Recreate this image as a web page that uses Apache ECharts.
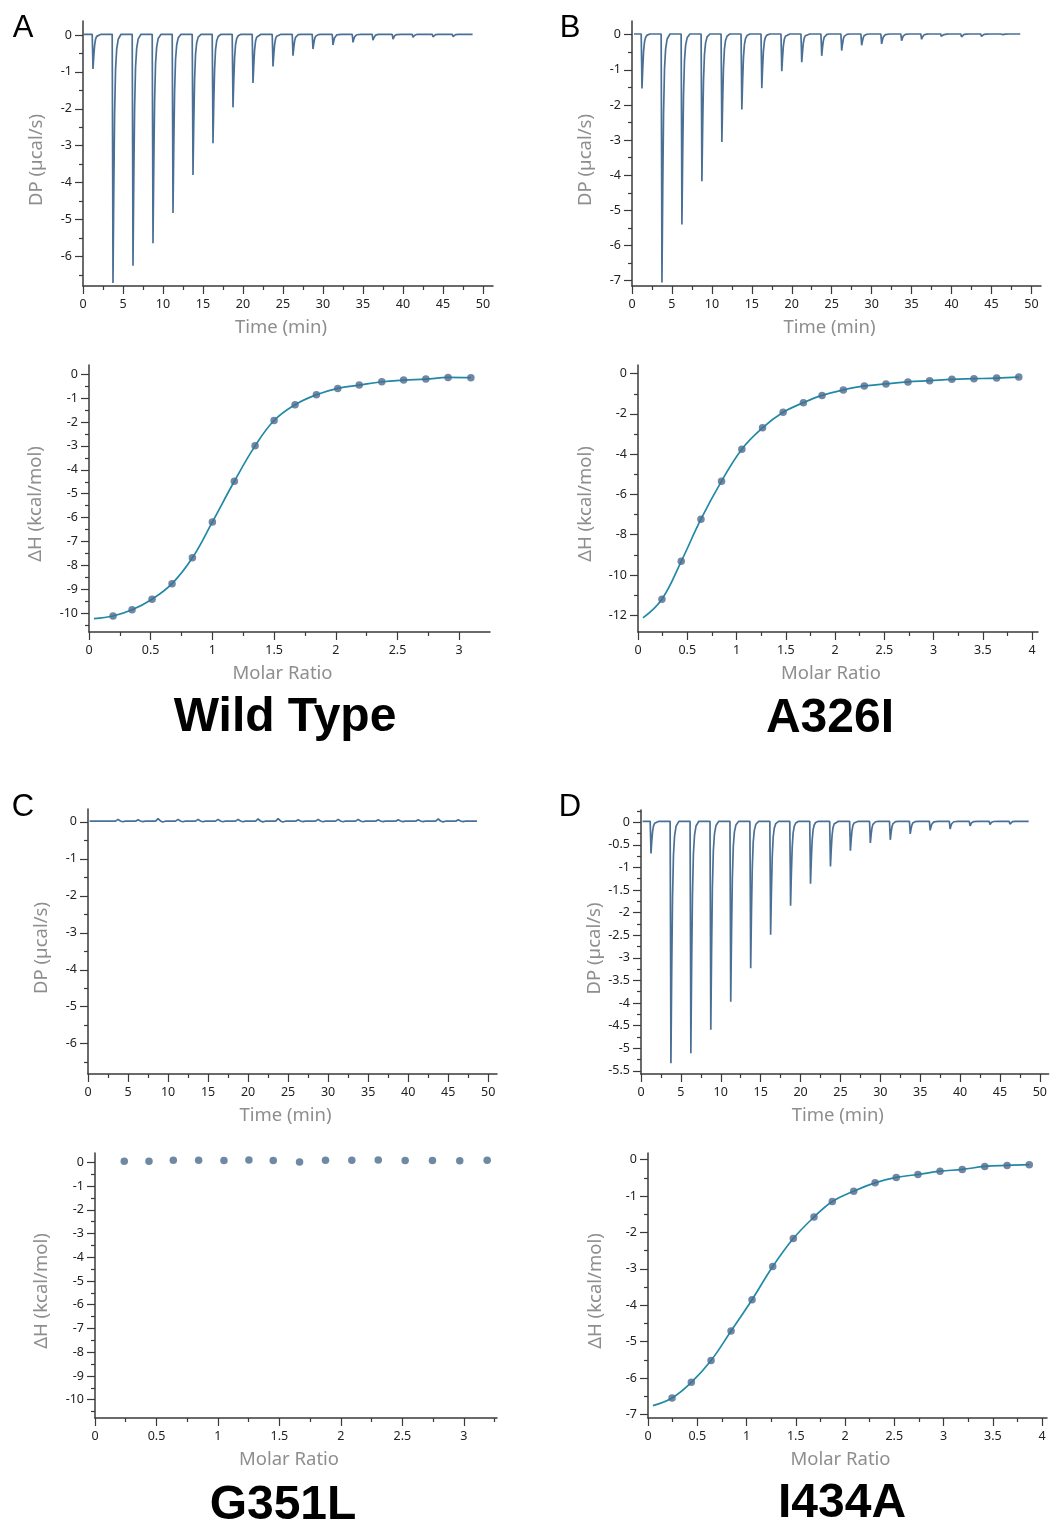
<!DOCTYPE html>
<html>
<head>
<meta charset="utf-8">
<title>ITC</title>
<style>
  html, body { margin: 0; padding: 0; background: #fff; }
  #main { width: 1050px; height: 1523px; }
</style>
</head>
<body>
<div id="main"></div>
<script src="https://cdn.jsdelivr.net/npm/echarts@6/dist/echarts.min.js"></script>
<script>
// injection peaks (min) and peak heights (ucal/s)
var injTimes = [1.25, 3.75, 6.25, 8.75, 11.25, 13.75, 16.25, 18.75, 21.25, 23.75, 26.25, 28.75, 31.25, 33.75, 36.25, 38.75, 41.25, 43.75, 46.25];
var peaksA = [-0.92, -6.72, -6.25, -5.64, -4.82, -3.79, -2.93, -1.96, -1.3, -0.85, -0.56, -0.38, -0.27, -0.2, -0.14, -0.11, -0.06, -0.05, -0.04];
var peaksB = [-1.53, -7.05, -5.4, -4.17, -3.05, -2.13, -1.52, -1.04, -0.78, -0.6, -0.45, -0.3, -0.26, -0.17, -0.13, -0.1, -0.06, -0.05, -0.03];
var peaksC = [0.02, 0.07, 0.06, 0.09, 0.07, 0.07, 0.07, 0.07, 0.08, 0.09, 0.06, 0.07, 0.07, 0.07, 0.06, 0.06, 0.06, 0.08, 0.06];
var peaksD = [-0.69, -5.33, -5.11, -4.59, -3.97, -3.23, -2.49, -1.85, -1.36, -0.98, -0.63, -0.46, -0.39, -0.26, -0.18, -0.15, -0.08, -0.05, -0.04];
var baseline = 0.02;
// shape of one injection peak: [time from peak, fraction of peak height]
var spikeShape = [[-0.1, 0], [-0.04, 0.55], [0, 1], [0.1, 0.62], [0.2, 0.32], [0.32, 0.14], [0.46, 0.06], [0.65, 0.02], [1.0, 0]];
// the small blips of the G351L run
var bumpShape = [[-0.3, 0], [0, 1], [0.3, 0.1], [0.6, -0.3], [0.9, 0]];

// integrated heats
var ratioA = [0.195, 0.349, 0.511, 0.673, 0.838, 1.0, 1.178, 1.346, 1.5, 1.67, 1.843, 2.016, 2.19, 2.373, 2.55, 2.73, 2.91, 3.095];
var dhA = [-10.11, -9.85, -9.41, -8.76, -7.68, -6.18, -4.48, -3.0, -1.94, -1.28, -0.865, -0.6, -0.46, -0.32, -0.25, -0.21, -0.14, -0.15];
var fitStartA = [0.04, -10.22];
var ratioB = [0.243, 0.439, 0.639, 0.848, 1.054, 1.264, 1.473, 1.679, 1.868, 2.084, 2.297, 2.517, 2.74, 2.96, 3.186, 3.41, 3.64, 3.865];
var dhB = [-11.2, -9.32, -7.23, -5.34, -3.75, -2.69, -1.92, -1.44, -1.08, -0.81, -0.61, -0.51, -0.41, -0.35, -0.28, -0.25, -0.22, -0.17];
var fitStartB = [0.05, -12.13];
var ratioC = [0.238, 0.439, 0.637, 0.843, 1.049, 1.252, 1.45, 1.664, 1.875, 2.089, 2.304, 2.523, 2.745, 2.967, 3.19];
var dhC = [0.04, 0.04, 0.08, 0.08, 0.07, 0.1, 0.07, 0.01, 0.08, 0.08, 0.1, 0.07, 0.07, 0.06, 0.08];
var ratioD = [0.244, 0.44, 0.64, 0.843, 1.056, 1.266, 1.475, 1.685, 1.871, 2.088, 2.305, 2.52, 2.74, 2.964, 3.19, 3.418, 3.645, 3.87];
var dhD = [-6.55, -6.12, -5.52, -4.71, -3.85, -2.94, -2.17, -1.58, -1.15, -0.87, -0.64, -0.49, -0.41, -0.32, -0.27, -0.19, -0.16, -0.14];
var fitStartD = [0.05, -6.76];

// tick labels
var timeTicks = [0, 5, 10, 15, 20, 25, 30, 35, 40, 45, 50];
var dpTicks6 = [0, -1, -2, -3, -4, -5, -6];
var dpTicks7 = [0, -1, -2, -3, -4, -5, -6, -7];
var dpTicksD = [0, -0.5, -1, -1.5, -2, -2.5, -3, -3.5, -4, -4.5, -5, -5.5];
var ratioTicks3 = [0, 0.5, 1, 1.5, 2, 2.5, 3];
var ratioTicks4 = [0, 0.5, 1, 1.5, 2, 2.5, 3, 3.5, 4];
var dhTicks10 = [0, -1, -2, -3, -4, -5, -6, -7, -8, -9, -10];
var dhTicksB = [0, -2, -4, -6, -8, -10, -12];
var dhTicksD = [0, -1, -2, -3, -4, -5, -6, -7];

var titles = ['Wild Type', 'A326I', 'G351L', 'I434A'];
var letters = ['A', 'B', 'C', 'D'];

var lineCol = '#4a7096';
var fitCol = '#2089a8';
var dotCol = '#4b6b8f';
var axisCol = '#3a3a3a';
var nameCol = '#8e8e8e';
var font = 'Noto Sans';

function thermo(peaks, shape, t0, t1) {
  var pts = [[t0, baseline]];
  for (var i = 0; i < injTimes.length; i++) {
    for (var k = 0; k < shape.length; k++) {
      pts.push([injTimes[i] + shape[k][0], baseline + shape[k][1] * (peaks[i] - baseline)]);
    }
  }
  pts.push([t1, baseline]);
  return pts;
}
function pairs(xs, ys) {
  return xs.map(function (x, i) { return [x, ys[i]]; });
}

function axis(isX, g, min, max, split, ticks, name, gap, shift) {
  return {
    type: 'value', gridIndex: g, min: min, max: max, splitNumber: split,
    position: isX ? 'bottom' : 'left',
    name: name, nameLocation: 'middle', nameGap: gap,
    nameTextStyle: { color: nameCol, fontSize: 18.5, fontFamily: font, padding: [0, shift, 0, 0] },
    axisLine: { show: true, onZero: false, lineStyle: { color: axisCol, width: 1.5 } },
    axisTick: { show: true, length: 8, customValues: ticks, lineStyle: { color: axisCol, width: 1.2 } },
    minorTick: { show: true, splitNumber: 2, length: 4, lineStyle: { color: axisCol, width: 1.2 } },
    axisLabel: { customValues: ticks, margin: isX ? 12 : 11, color: '#222', fontSize: 12.5, fontFamily: font },
    splitLine: { show: false }
  };
}

var grids = [
  { left: 83, top: 21, width: 410, height: 265 },
  { left: 89, top: 365, width: 401, height: 267 },
  { left: 632, top: 21, width: 409, height: 265 },
  { left: 638, top: 365, width: 400, height: 267 },
  { left: 88, top: 809, width: 409, height: 265 },
  { left: 95, top: 1153, width: 402, height: 265 },
  { left: 641, top: 810, width: 409, height: 264 },
  { left: 648, top: 1153, width: 399, height: 265 }
];

var xAxes = [
  axis(true, 0, 0, 51.25, 10, timeTicks, 'Time (min)', 32, 14),
  axis(true, 1, 0, 3.25, 7, ratioTicks3, 'Molar Ratio', 32, 14),
  axis(true, 2, 0, 51.2, 10, timeTicks, 'Time (min)', 32, 14),
  axis(true, 3, 0, 4.06, 8, ratioTicks4, 'Molar Ratio', 32, 14),
  axis(true, 4, 0, 51.1, 10, timeTicks, 'Time (min)', 32, 14),
  axis(true, 5, 0, 3.27, 7, ratioTicks3, 'Molar Ratio', 32, 14),
  axis(true, 6, 0, 51.1, 10, timeTicks, 'Time (min)', 32, 14),
  axis(true, 7, 0, 4.05, 8, ratioTicks4, 'Molar Ratio', 32, 14)
];
var yAxes = [
  axis(false, 0, -6.8, 0.38, 7, dpTicks6, 'DP (µcal/s)', 37, 13),
  axis(false, 1, -10.78, 0.38, 11, dhTicks10, 'ΔH (kcal/mol)', 44, 11),
  axis(false, 2, -7.15, 0.39, 7, dpTicks7, 'DP (µcal/s)', 37, 13),
  axis(false, 3, -12.83, 0.43, 7, dhTicksB, 'ΔH (kcal/mol)', 43, 11),
  axis(false, 4, -6.82, 0.35, 7, dpTicks6, 'DP (µcal/s)', 37, 13),
  axis(false, 5, -10.77, 0.39, 11, dhTicks10, 'ΔH (kcal/mol)', 44, 11),
  axis(false, 6, -5.57, 0.27, 12, dpTicksD, 'DP (µcal/s)', 37, 13),
  axis(false, 7, -7.1, 0.18, 7, dhTicksD, 'ΔH (kcal/mol)', 43, 11)
];

function thermoSeries(i, data) {
  return {
    type: 'line', xAxisIndex: i, yAxisIndex: i, data: data,
    showSymbol: false, symbol: 'none', animation: false,
    lineStyle: { color: lineCol, width: 1.7 }
  };
}
function fitSeries(i, start, xs, ys) {
  return {
    type: 'line', xAxisIndex: i, yAxisIndex: i, smooth: 0.4,
    data: [start].concat(pairs(xs, ys)),
    showSymbol: false, symbol: 'none', animation: false,
    lineStyle: { color: fitCol, width: 1.7 }
  };
}
function dotSeries(i, xs, ys) {
  return {
    type: 'scatter', xAxisIndex: i, yAxisIndex: i, data: pairs(xs, ys),
    symbolSize: 7.5, animation: false, z: 5,
    itemStyle: { color: dotCol }
  };
}

var series = [
  thermoSeries(0, thermo(peaksA, spikeShape, 0.1, 48.7)),
  fitSeries(1, fitStartA, ratioA, dhA),
  dotSeries(1, ratioA, dhA),
  thermoSeries(2, thermo(peaksB, spikeShape, 0.25, 48.6)),
  fitSeries(3, fitStartB, ratioB, dhB),
  dotSeries(3, ratioB, dhB),
  thermoSeries(4, thermo(peaksC, bumpShape, 0.2, 48.6)),
  dotSeries(5, ratioC, dhC),
  thermoSeries(6, thermo(peaksD, spikeShape, 0.2, 48.6)),
  fitSeries(7, fitStartD, ratioD, dhD),
  dotSeries(7, ratioD, dhD)
];

var letterPos = [[23, 28], [570, 28], [23, 807], [570, 807]];
var titlePos = [[285, 718], [830, 719], [283, 1506], [842, 1504]];
var graphics = [];
letters.forEach(function (t, i) {
  graphics.push({
    type: 'text', x: letterPos[i][0], y: letterPos[i][1],
    style: { text: t, fill: '#000', font: '31px "Liberation Sans"', textAlign: 'center', textVerticalAlign: 'middle' }
  });
});
titles.forEach(function (t, i) {
  graphics.push({
    type: 'text', x: titlePos[i][0], y: titlePos[i][1],
    style: { text: t, fill: '#000', font: 'bold 48px "Liberation Sans"', textAlign: 'center', textVerticalAlign: 'middle' }
  });
});

var chart = echarts.init(document.getElementById('main'));
chart.setOption({
  animation: false,
  backgroundColor: '#fff',
  grid: grids,
  xAxis: xAxes,
  yAxis: yAxes,
  series: series,
  graphic: graphics
});
</script>
</body>
</html>
